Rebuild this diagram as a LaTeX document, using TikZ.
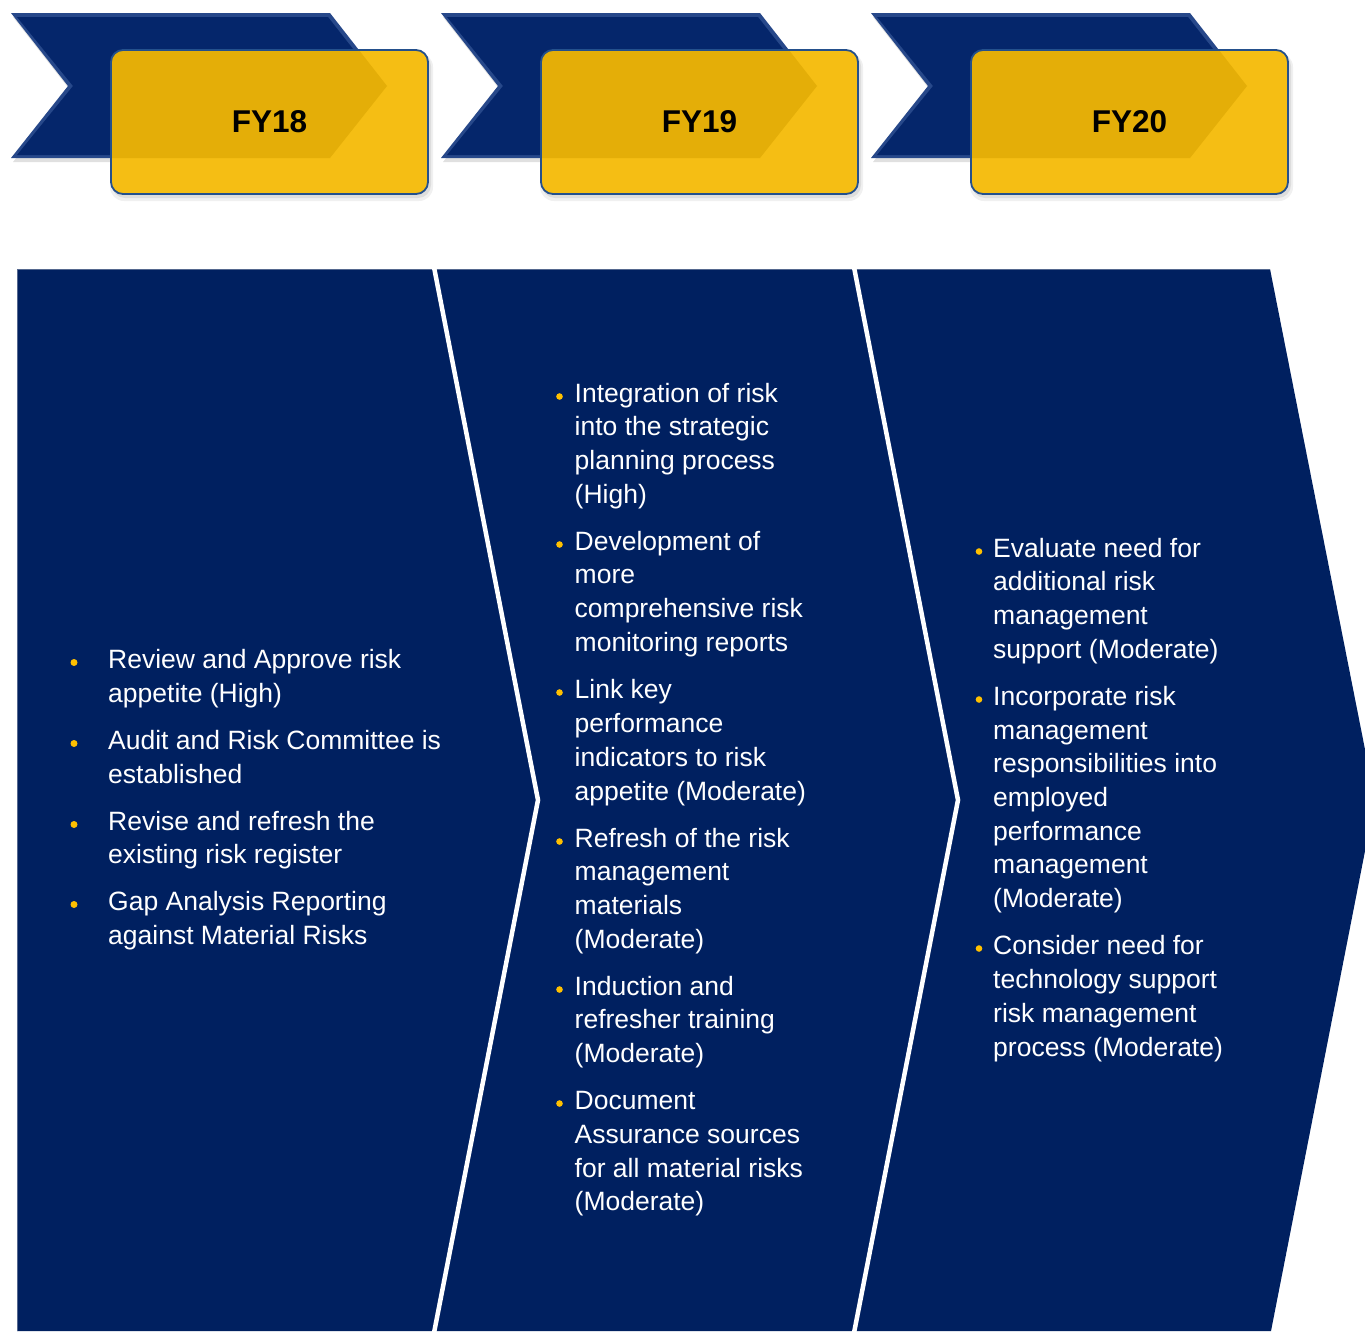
\documentclass[tikz,border=0pt]{standalone}
\usepackage{fontspec}
\setmainfont{Liberation Sans}
\definecolor{navy}{HTML}{002060}
\definecolor{ribbon}{HTML}{05266B}
\definecolor{ribbonedge}{HTML}{27488A}
\definecolor{gold}{HTML}{F5BE14}
\definecolor{golddark}{HTML}{E4AE08}
\definecolor{boxline}{HTML}{24508C}
\definecolor{bulletc}{HTML}{FFC000}
\definecolor{faint}{HTML}{55688F}
\tikzset{
  itemtxt/.style={text=white, font=\fontsize{26.5}{34}\selectfont, anchor=base west, inner sep=0pt, yshift=-1pt},
  hdrlabel/.style={font=\bfseries\fontsize{31.5}{31.5}\selectfont, anchor=base, inner sep=0pt, text=black},
  hdrbox/.style={draw=boxline, line width=1.8pt, rounded corners=12pt, minimum width=317pt, minimum height=144pt, inner sep=0pt},
  sepline/.style={draw=white, line width=4.5pt, line join=miter},
  dot/.style={fill=bulletc}
}
\begin{document}
\begin{tikzpicture}[x=1pt,y=-1pt]
\useasboundingbox (0,0) rectangle (1365,1331);
\clip (0,0) rectangle (1365,1331);

% ---------- header ribbons ----------
\foreach \i/\lab/\cx in {0/FY18/269.5,1/FY19/699.5,2/FY20/1129.5}{
  \begin{scope}[xshift=\i*430pt]
    % ribbon shadow
    \fill[black, opacity=0.12] (13,17) -- (332,17) -- (389,90) -- (332,162) -- (13,162) -- (70,90) -- cycle;
    % ribbon with bevel
    \fill[ribbonedge] (11,13) -- (330,13) -- (387,86) -- (330,158) -- (11,158) -- (68,86) -- cycle;
    \fill[ribbon] (17,17) -- (328,17) -- (382,86) -- (328,155) -- (17,155) -- (73,86) -- cycle;
    % box shadow
    \fill[black, opacity=0.06, rounded corners=14pt] (110,53) rectangle (433,201);
    \fill[black, opacity=0.08, rounded corners=13pt] (112,53) rectangle (431,198);
    % box
    \fill[gold, rounded corners=12pt] (111,50) rectangle (428,194);
    \begin{scope}
      \clip[rounded corners=12pt] (111,50) rectangle (428,194);
      \fill[golddark] (11,13) -- (330,13) -- (387,86) -- (330,158) -- (11,158) -- cycle;
    \end{scope}
    \node[hdrbox] (box\i) at (269.5,122) {};
  \end{scope}
  \node[hdrlabel] (lab\i) at (\cx,132) {\lab};
}

% ---------- body chevrons ----------
\fill[navy] (17,269) -- (1270,269) -- (1375,800) -- (1271,1331) -- (17,1331) -- cycle;
\draw[faint, line width=1pt] (17.5,1331) -- (17.5,269.5) -- (1270,269.5);
\path[sepline] (433,262) -- (538,800) -- (433,1338);
\path[sepline] (853,262) -- (958,800) -- (853,1338);

% ---------- column 1 ----------
\foreach \y/\t [count=\n] in {
  667.5/Review and Approve risk,
  701.5/appetite (High),
  748.5/Audit and Risk Committee is,
  782.5/established,
  829.5/Revise and refresh the,
  862.5/existing risk register,
  909.5/Gap Analysis Reporting,
  943.5/against Material Risks}{
  \node[itemtxt] (a\n) at (108,\y) {\t};
}
\foreach \y in {667.5,748.5,829.5,909.5}{\fill[dot] (74,\y-5) circle (3.5);}

% ---------- column 2 ----------
\foreach \y/\t [count=\n] in {
  401.5/Integration of risk,
  434.5/into the strategic,
  468.5/planning process,
  502.5/(High),
  549.5/Development of,
  582.5/more,
  616.5/comprehensive risk,
  650.5/monitoring reports,
  697.5/Link key,
  731.5/performance,
  765.5/indicators to risk,
  799.5/appetite (Moderate),
  846.5/Refresh of the risk,
  879.5/management,
  913.5/materials,
  947.5/(Moderate),
  994.5/Induction and,
  1027.5/refresher training,
  1061.5/(Moderate),
  1108.5/Document,
  1142.5/Assurance sources,
  1176.5/for all material risks,
  1209.5/(Moderate)}{
  \node[itemtxt] (b\n) at (574.5,\y) {\t};
}
\foreach \y in {401.5,549.5,697.5,846.5,994.5,1108.5}{\fill[dot] (559.5,\y-5) circle (3.3);}

% ---------- column 3 ----------
\foreach \y/\t [count=\n] in {
  556.5/Evaluate need for,
  589.5/additional risk,
  623.5/management,
  657.5/support (Moderate),
  704.5/Incorporate risk,
  738.5/management,
  771.5/responsibilities into,
  805.5/employed,
  839.5/performance,
  872.5/management,
  906.5/(Moderate),
  953.5/Consider need for,
  987.5/technology support,
  1021.5/risk management,
  1055.5/process (Moderate)}{
  \node[itemtxt] (c\n) at (993,\y) {\t};
}
\foreach \y in {556.5,704.5,953.5}{\fill[dot] (979,\y-5) circle (3.3);}
\end{tikzpicture}
\end{document}
